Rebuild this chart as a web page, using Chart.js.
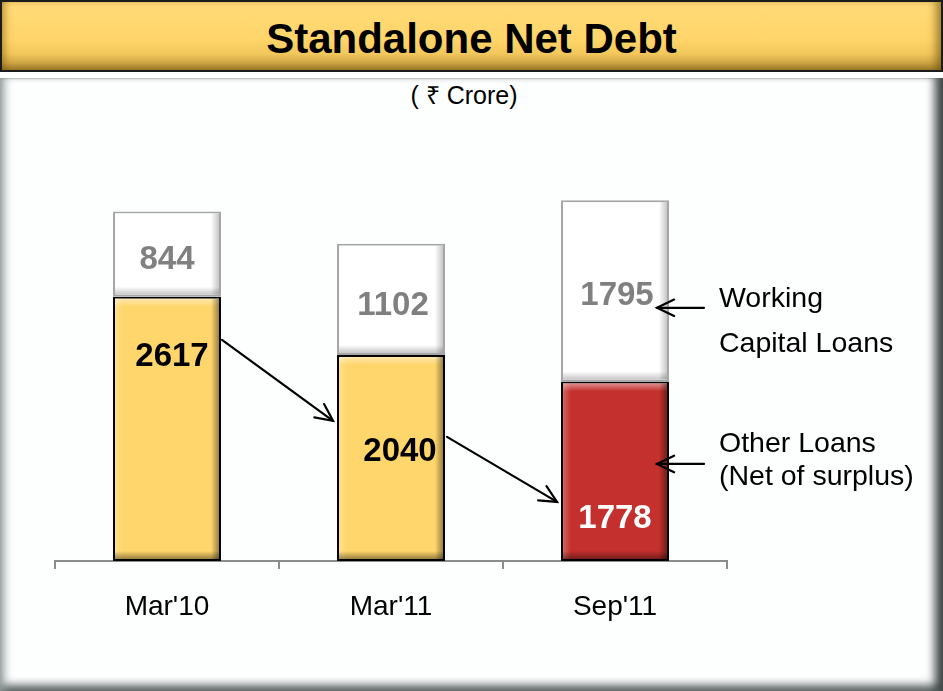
<!DOCTYPE html>
<html><head><meta charset="utf-8">
<script src="https://cdn.jsdelivr.net/npm/chart.js@4.4.0/dist/chart.umd.min.js"></script>
<style>
html,body{margin:0;padding:0;width:943px;height:691px;overflow:hidden;background:#fff;font-family:"Liberation Sans",Arial,sans-serif;}
#title{position:absolute;left:0;top:0;width:939px;height:68px;border:2px solid #1b1b1b;
  background:linear-gradient(#FFDB78 0%,#FFD56A 55%,#F2C75C 76%,#D4AA47 88%,#9E7C2C 100%);
  box-shadow:inset 7px 0 7px -4px rgba(130,90,10,.55), inset -9px 0 8px -4px rgba(110,80,10,.65);
  text-align:center;font-weight:bold;font-size:42px;line-height:74px;color:#000;}
#panel{position:absolute;left:0;top:78px;width:943px;height:613px;background:#fdfefe;
  box-shadow:inset 9px 0 8px -5px #8f9999, inset -13px 0 10px -5px #3e4444, inset 0 -11px 8px -5px #5d6464, inset 0 2px 1px -1px #d4d8d8;}
#sub{position:absolute;left:0;width:928px;top:79px;text-align:center;font-size:25px;line-height:32px;color:#000;}
#wrap{position:absolute;left:0;top:0;width:943px;height:691px;}
</style></head>
<body>
<div id="title">Standalone Net Debt</div>
<div id="panel"></div>
<div id="sub">( ₹ Crore)</div>
<div id="wrap"><canvas id="c" width="943" height="691"></canvas></div>
<script>
// ---- data ----
const categories = ["Mar'10", "Mar'11", "Sep'11"];
const otherLoans = [2617, 2040, 1778];
const workingCapital = [844, 1102, 1795];
const seriesNames = ['Other Loans (Net of surplus)', 'Working Capital Loans'];
const noteWorking = ['Working', 'Capital Loans'];
const noteOther = ['Other Loans', '(Net of surplus)'];

// ---- styles ----
const otherColors = ['#FFD66B', '#FFD66B', '#C3302D'];
const FONT = '"Liberation Sans", Arial, sans-serif';
// label placement: fraction from segment top, x shift
const labelFrac = [[0.217, 0.454, 0.749], [0.54, 0.53, 0.51]];
const labelShift = [[5, 9, 0], [0, 2, 2]];
const labelColor = [['#000', '#000', '#fff'], ['#808080', '#808080', '#808080']];

function arrowHead(ctx, x1, y1, x2, y2, len) {
  const a = Math.atan2(y2 - y1, x2 - x1);
  const s = 0.45;
  ctx.beginPath();
  ctx.moveTo(x2 - len * Math.cos(a - s), y2 - len * Math.sin(a - s));
  ctx.lineTo(x2, y2);
  ctx.lineTo(x2 - len * Math.cos(a + s), y2 - len * Math.sin(a + s));
  ctx.stroke();
}
function arrow(ctx, x1, y1, x2, y2) {
  ctx.beginPath(); ctx.moveTo(x1, y1); ctx.lineTo(x2, y2); ctx.stroke();
  arrowHead(ctx, x1, y1, x2, y2, 19);
}

const decor = {
  id: 'decor',
  afterDatasetsDraw(chart) {
    const ctx = chart.ctx;
    const ys = chart.scales.y;
    const rects = [];
    chart.data.datasets.forEach((ds, di) => {
      const meta = chart.getDatasetMeta(di);
      rects[di] = [];
      meta.data.forEach((bar, i) => {
        const p = bar.getProps(['x', 'y', 'base', 'width'], true);
        const l = p.x - p.width / 2, r = p.x + p.width / 2, t = Math.min(p.y, p.base), b = Math.max(p.y, p.base);
        rects[di][i] = {l, r, t, b, x: p.x};
        const ins = 2, s = 8;
        const dark = di === 0 ? 0.4 : 0.22;
        ctx.save();
        let g;
        g = ctx.createLinearGradient(0, t + ins, 0, t + ins + s);
        g.addColorStop(0, 'rgba(255,255,255,0.45)'); g.addColorStop(1, 'rgba(255,255,255,0)');
        ctx.fillStyle = g; ctx.fillRect(l + ins, t + ins, r - l - 2 * ins, s);
        g = ctx.createLinearGradient(l + ins, 0, l + ins + s, 0);
        g.addColorStop(0, 'rgba(255,255,255,0.25)'); g.addColorStop(1, 'rgba(255,255,255,0)');
        ctx.fillStyle = g; ctx.fillRect(l + ins, t + ins, s, b - t - 2 * ins);
        g = ctx.createLinearGradient(r - ins - s, 0, r - ins, 0);
        g.addColorStop(0, 'rgba(0,0,0,0)'); g.addColorStop(1, 'rgba(0,0,0,' + dark + ')');
        ctx.fillStyle = g; ctx.fillRect(r - ins - s, t + ins, s, b - t - 2 * ins);
        g = ctx.createLinearGradient(0, b - ins - s, 0, b - ins);
        g.addColorStop(0, 'rgba(0,0,0,0)'); g.addColorStop(1, 'rgba(0,0,0,' + dark + ')');
        ctx.fillStyle = g; ctx.fillRect(l + ins, b - ins - s, r - l - 2 * ins, s);
        ctx.restore();
      });
    });
    // value labels
    ctx.save();
    ctx.font = 'bold 33px ' + FONT;
    ctx.textAlign = 'center';
    ctx.textBaseline = 'alphabetic';
    chart.data.datasets.forEach((ds, di) => {
      ds.data.forEach((v, i) => {
        const R = rects[di][i];
        const cy = R.t + (R.b - R.t) * labelFrac[di][i];
        ctx.fillStyle = labelColor[di][i];
        ctx.fillText(String(v), R.x + labelShift[di][i], cy + 12);
      });
    });
    ctx.restore();
    // arrows between bars
    ctx.save();
    ctx.strokeStyle = '#000'; ctx.lineWidth = 2.2; ctx.lineCap = 'round'; ctx.lineJoin = 'miter';
    const b0 = rects[0];
    arrow(ctx, b0[0].r + 1, ys.getPixelForValue(2190), b0[1].l - 4, ys.getPixelForValue(1388));
    arrow(ctx, b0[1].r + 2, ys.getPixelForValue(1229), b0[2].l - 4, ys.getPixelForValue(585));
    const last = b0[2];
    arrow(ctx, last.r + 35, ys.getPixelForValue(2507), last.r - 12, ys.getPixelForValue(2507));
    arrow(ctx, last.r + 35, ys.getPixelForValue(961), last.r - 12, ys.getPixelForValue(961));
    ctx.restore();
    // side notes
    ctx.save();
    ctx.font = '28.5px ' + FONT;
    ctx.fillStyle = '#000';
    ctx.textAlign = 'left';
    ctx.textBaseline = 'alphabetic';
    const tx = last.r + 50;
    ctx.fillText(noteWorking[0], tx, ys.getPixelForValue(2517));
    ctx.fillText(noteWorking[1], tx, ys.getPixelForValue(2071));
    ctx.fillText(noteOther[0], tx, ys.getPixelForValue(1080));
    ctx.fillText(noteOther[1], tx, ys.getPixelForValue(753));
    ctx.restore();
  }
};

new Chart(document.getElementById('c'), {
  type: 'bar',
  data: {
    labels: categories,
    datasets: [
      { label: seriesNames[0], data: otherLoans, backgroundColor: otherColors, borderColor: '#000', borderWidth: 2, borderSkipped: false },
      { label: seriesNames[1], data: workingCapital, backgroundColor: '#FFFFFF', borderColor: '#A6A6A6', borderWidth: 2, borderSkipped: false }
    ]
  },
  options: {
    responsive: false,
    animation: false,
    events: [],
    layout: { padding: { top: 157, left: 55, right: 216, bottom: 0 } },
    datasets: { bar: { barPercentage: 0.482, categoryPercentage: 1 } },
    plugins: { legend: { display: false }, tooltip: { enabled: false }, title: { display: false } },
    scales: {
      x: {
        stacked: true,
        grid: { display: true, drawOnChartArea: false, drawTicks: true, tickLength: 8, color: '#8c8c8c', lineWidth: 2, offset: true },
        border: { display: true, color: '#8c8c8c', width: 2 },
        ticks: { color: '#000', font: { family: FONT, size: 28 }, padding: 21 },
        afterFit(scale) { scale.height = 130; }
      },
      y: { stacked: true, display: false, min: 0, max: 4000 }
    }
  },
  plugins: [decor]
});
</script>
</body></html>
